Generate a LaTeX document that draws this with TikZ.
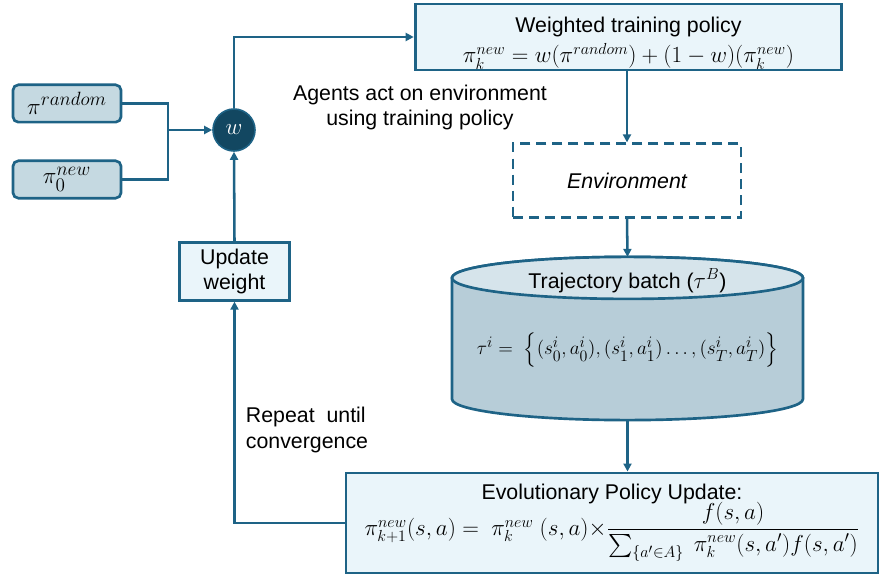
\documentclass[tikz,border=0pt]{standalone}
\usepackage{amsmath}
\usepackage{fontspec}
\setmainfont{Liberation Sans}
\DeclareMathSizes{18}{18}{14}{11}
\DeclareMathSizes{17}{17}{13}{10}
\DeclareMathSizes{16}{16}{12.5}{10}
\DeclareMathSizes{15}{15}{11.5}{9}
\usetikzlibrary{arrows.meta,calc}
\definecolor{tblue}{HTML}{1E6386}
\definecolor{tdark}{HTML}{124761}
\definecolor{tlight}{HTML}{EAF5FA}
\definecolor{tpol}{HTML}{C5D9E1}
\definecolor{tbody}{HTML}{B7CDD8}
\definecolor{ttop}{HTML}{D6E4EB}

\begin{document}
\begin{tikzpicture}[
    x=0.75pt, y=-0.75pt,
    >={Triangle[length=6pt,width=6pt]},
    every node/.style={font=\fontsize{16}{19}\selectfont},
    boite/.style={draw=tblue, line width=2.2pt, fill=tlight, rectangle,
                  align=center, inner sep=0pt},
    politique/.style={draw=tblue, line width=2pt, fill=tpol, rectangle,
                      rounded corners=4pt, inner sep=0pt,
                      minimum width=81pt, minimum height=28pt,
                      font=\fontsize{18}{21}\selectfont},
    fleche/.style={->, line width=1.9pt, tblue},
    trait/.style={line width=1.9pt, tblue}
  ]
  \useasboundingbox (0,0) rectangle (881,574);

  % policies and weight
  \node[politique] (rand) at (67,103.5) {$\pi^{random}$};
  \node[politique] (new0) at (67,179.5) {$\pi_0^{new}$};
  \node[circle, fill=tdark, draw=tblue, line width=1.2pt, minimum size=31.5pt,
        inner sep=0pt, text=white] (w) at (234,130) {$w$};
  \coordinate (join) at (168,130);
  \draw[trait] (rand.east) -| (join);
  \draw[trait] (new0.east) -| (join);
  \draw[fleche] (join) -- (w.west);

  % main loop
  \node[boite, minimum width=320pt, minimum height=49.5pt] (train) at (628.5,37) {};
  \node[align=center, inner sep=0pt] (traintxt) at (628.5,43)
    {Weighted training policy\\[4pt]
     {\fontsize{17}{20}\selectfont $\pi_k^{new} = w(\pi^{random}) + (1-w)(\pi_k^{new})$}};
  \node[boite, fill=white, dashed, dash pattern=on 7.5pt off 4.5pt,
        minimum width=171pt, minimum height=55pt, font=\fontsize{16}{19}\selectfont\itshape]
        (env) at (627,180.5) {Environment};
  \node[minimum width=263pt, minimum height=122pt, inner sep=0pt] (batch) at (627.5,338.5) {};
  \node[boite, minimum width=399pt, minimum height=75pt] (evol) at (612,523)
    {Evolutionary Policy Update:\\[-2pt]
     $\pi_{k+1}^{new}(s,a) =\ \pi_k^{new}\ (s,a){\times}\dfrac{f(s,a)}{\textstyle\sum_{\{a'\in A\}}\ \pi_k^{new}(s,a')f(s,a')}$};
  \node[boite, minimum width=82pt, minimum height=43pt] (upd) at (234.5,271.5)
    {Update\\weight};

  % trajectory batch cylinder
  \coordinate (ctop) at ($(batch.north)+(0,21)$);
  \coordinate (cbot) at ($(batch.south)+(0,-21)$);
  \draw[tblue, line width=2pt, fill=tbody]
    ($(ctop)+(-175.5,0)$) -- ($(cbot)+(-175.5,0)$)
    arc[start angle=180, end angle=360, x radius=131.6pt, y radius=15.75pt]
    -- ($(ctop)+(175.5,0)$)
    arc[start angle=0, end angle=180, x radius=131.6pt, y radius=15.75pt] -- cycle;
  \draw[tblue, line width=2pt, fill=ttop] (ctop) ellipse[x radius=131.6pt, y radius=15.75pt];
  \node (batchtxt) at ($(ctop)+(0,3)$) {Trajectory batch ($\tau^B$)};
  \node[font=\fontsize{15}{18}\selectfont] (traj) at (627.5,350)
    {$\tau^i =\ \Bigl\{(s_0^i, a_0^i), (s_1^i, a_1^i) \ldots, (s_T^i, a_T^i)\Bigr\}$};

  \draw[fleche] (w.north) |- (train.west);
  \draw[fleche] (train.south -| env.north) -- (env.north);
  \draw[fleche] (env.south) -- (batch.north);
  \draw[fleche] (batch.south) -- (batch.south |- evol.north);
  \draw[fleche] (evol.west) -| (upd.south);
  \draw[fleche] (upd.north) -- (w.south);

  \node[align=center] (agents) at (420,107.5)
    {Agents act on environment\\using training policy};
  \node[align=left] (repeat) at (307,430) {Repeat\ \ until\\convergence};
\end{tikzpicture}
\end{document}
